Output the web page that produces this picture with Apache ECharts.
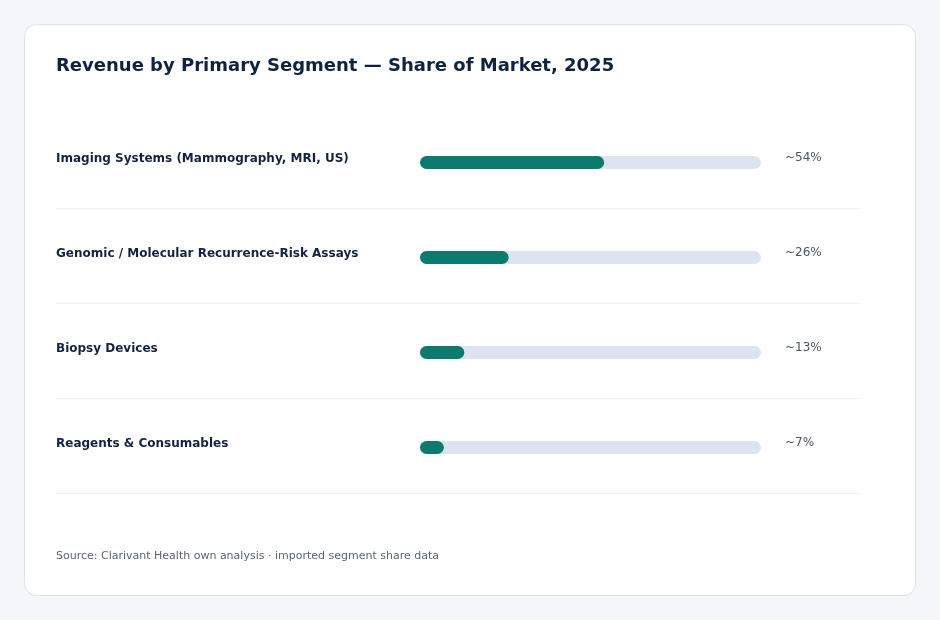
<!DOCTYPE html>
<html>
<head>
<meta charset="utf-8">
<script src="https://cdn.jsdelivr.net/npm/echarts@6/dist/echarts.min.js"></script>
<style>
  html, body { margin: 0; padding: 0; background: #f4f7fa; }
  #chart { width: 940px; height: 620px; }
</style>
</head>
<body>
<div id="chart"></div>
<script>
// segment data (share of market, %)
const segments = [
  "Imaging Systems (Mammography, MRI, US)",
  "Genomic / Molecular Recurrence-Risk Assays",
  "Biopsy Devices",
  "Reagents & Consumables"
];
const shares = [54, 26, 13, 7];
const trackMax = [100, 100, 100, 100];

const chart = echarts.init(document.getElementById("chart"));

chart.setOption({
  backgroundColor: "#f4f7fa",
  textStyle: { fontFamily: "DejaVu Sans" },
  graphic: [
    {
      type: "rect",
      z: -10,
      shape: { x: 24.5, y: 24.5, width: 891, height: 571, r: 12 },
      style: { fill: "#ffffff", stroke: "#dde3ea", lineWidth: 1 }
    }
  ],
  title: [
    {
      text: "Revenue by Primary Segment — Share of Market, 2025",
      left: 56,
      top: 57,
      padding: 0,
      textStyle: { fontSize: 18, fontWeight: "bold", color: "#0f2240", fontFamily: "DejaVu Sans" }
    },
    {
      text: "Source: Clarivant Health own analysis · imported segment share data",
      left: 56,
      top: 551,
      padding: 0,
      textStyle: { fontSize: 11, fontWeight: "normal", color: "#5b6472", fontFamily: "DejaVu Sans" }
    }
  ],
  grid: [
    { left: 420, width: 341, top: 115, height: 380 },
    { left: 56, right: 79, top: 208, height: 285 },
    { left: 420, width: 341, top: 111, height: 380 }
  ],
  xAxis: [
    { type: "value", gridIndex: 0, min: 0, max: 100, show: false },
    { type: "value", gridIndex: 1, min: 0, max: 1, show: false },
    { type: "value", gridIndex: 2, min: 0, max: 1, show: false }
  ],
  yAxis: [
    {
      type: "category",
      gridIndex: 0,
      data: segments,
      inverse: true,
      show: false
    },
    {
      type: "value",
      gridIndex: 1,
      min: 1,
      max: segments.length,
      interval: 1,
      inverse: true,
      axisLine: { show: false },
      axisTick: { show: false },
      axisLabel: { show: false },
      splitLine: { show: true, lineStyle: { color: "#eef1f5", width: 1 } }
    },
    {
      type: "category",
      gridIndex: 2,
      data: segments,
      inverse: true,
      axisLine: { show: false },
      axisTick: { show: false },
      splitLine: { show: false },
      axisLabel: {
        align: "left",
        margin: 364,
        fontSize: 12,
        fontWeight: "bold",
        color: "#13233f",
        fontFamily: "DejaVu Sans"
      }
    }
  ],
  series: [
    {
      type: "bar",
      xAxisIndex: 0,
      yAxisIndex: 0,
      data: trackMax,
      barWidth: 13,
      barGap: "-100%",
      silent: true,
      itemStyle: { color: "#dce5ef", borderRadius: 6.5 },
      label: {
        show: true,
        position: "right",
        distance: 24,
        offset: [0, -5],
        formatter: p => "~" + shares[p.dataIndex] + "%",
        fontSize: 12,
        color: "#4a5565",
        fontFamily: "DejaVu Sans"
      },
      z: 2
    },
    {
      type: "bar",
      xAxisIndex: 0,
      yAxisIndex: 0,
      data: shares,
      barWidth: 13,
      itemStyle: { color: "#0c7a6e", borderRadius: 6.5 },
      z: 3
    }
  ]
});
</script>
</body>
</html>
